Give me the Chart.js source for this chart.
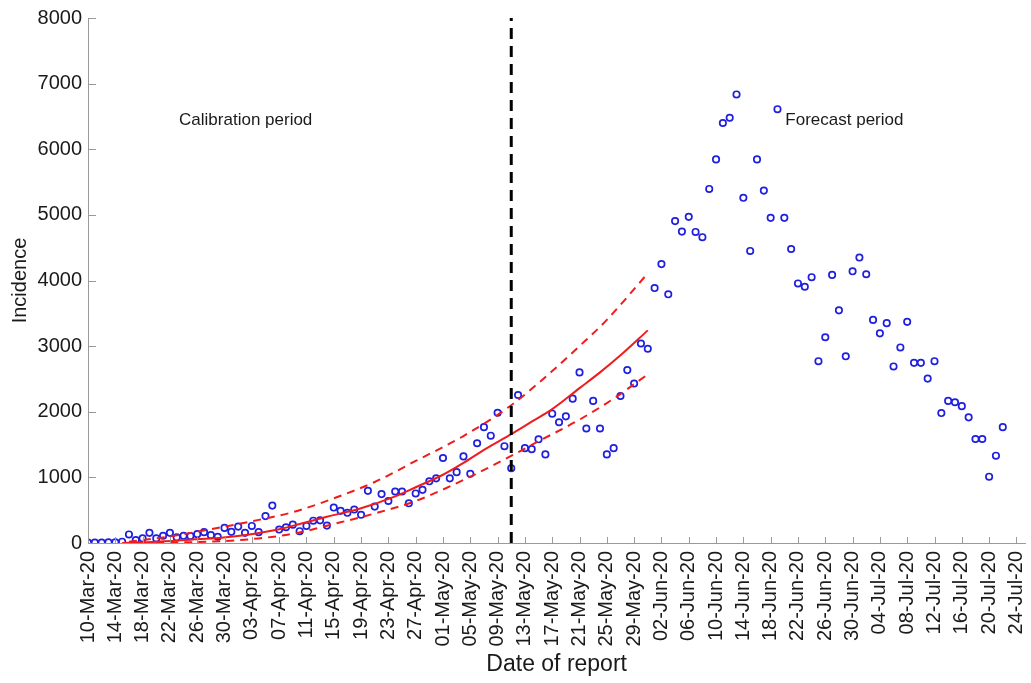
<!DOCTYPE html>
<html>
<head>
<meta charset="utf-8">
<script src="https://cdn.jsdelivr.net/npm/chart.js@4.4.1/dist/chart.umd.min.js"></script>
<style>
  html, body { margin: 0; padding: 0; background: #fff; }
  #chart { display: block; }
</style>
</head>
<body>
<canvas id="chart" width="1031" height="683"></canvas>
<script>
// Daily reported incidence, one value per day from 10-Mar-20
const incidence = [
    5, 5, 5, 10, 10, 20, 130, 45, 70, 155,
    70, 110, 155, 85, 110, 105, 135, 165, 120, 95,
    230, 170, 250, 155, 260, 165, 410, 570, 205, 240,
    280, 180, 260, 340, 345, 265, 540, 490, 460, 510,
    430, 795, 555, 745, 640, 785, 785, 605, 755, 810,
    940, 985, 1295, 985, 1080, 1320, 1055, 1520, 1765, 1635,
    1985, 1475, 1140, 2255, 1445, 1430, 1580, 1350, 1970, 1840,
    1930, 2200, 2600, 1745, 2165, 1745, 1350, 1445, 2240, 2635,
    2430, 3040, 2960, 3885, 4250, 3790, 4905, 4745, 4970, 4740,
    4660, 5395, 5845, 6400, 6480, 6835, 5260, 4450, 5845, 5370,
    4955, 6610, 4955, 4480, 3955, 3905, 4050, 2770, 3135, 4085,
    3545, 2845, 4140, 4350, 4095, 3400, 3195, 3350, 2690, 2980,
    3370, 2745, 2745, 2505, 2770, 1980, 2165, 2145, 2085, 1915,
    1585, 1585, 1010, 1330, 1765
];

// Fitted model (solid) and its bounds (dashed), read at selected days
const fitDays = [5, 10, 15, 21, 28, 31, 35, 40, 45, 48, 52, 55, 58, 62, 65, 68, 72, 75, 78, 82];
const fitMid  = [0, 20, 50, 95, 210, 290, 400, 530, 710, 850, 1040, 1220, 1420, 1660, 1850, 2040, 2360, 2600, 2860, 3240];
const upDays  = [6, 12, 18, 24, 30, 36, 42, 48, 55, 62, 68, 72, 76, 82];
const fitUp   = [20, 100, 210, 330, 470, 680, 930, 1250, 1630, 2100, 2620, 3000, 3400, 4110];
const loDays  = [10, 20, 25, 30, 36, 42, 48, 55, 60, 66, 72, 77, 82];
const fitLo   = [0, 30, 70, 140, 290, 450, 640, 960, 1220, 1550, 1880, 2200, 2570];

// End of calibration period (day index), 11-May-20
const splitDay = 62;

const tickLabels = [
    '10-Mar-20', '14-Mar-20', '18-Mar-20', '22-Mar-20', '26-Mar-20', '30-Mar-20',
    '03-Apr-20', '07-Apr-20', '11-Apr-20', '15-Apr-20', '19-Apr-20', '23-Apr-20', '27-Apr-20',
    '01-May-20', '05-May-20', '09-May-20', '13-May-20', '17-May-20', '21-May-20', '25-May-20', '29-May-20',
    '02-Jun-20', '06-Jun-20', '10-Jun-20', '14-Jun-20', '18-Jun-20', '22-Jun-20', '26-Jun-20', '30-Jun-20',
    '04-Jul-20', '08-Jul-20', '12-Jul-20', '16-Jul-20', '20-Jul-20', '24-Jul-20'
];

const FONT = "'Liberation Sans', Arial, Helvetica, sans-serif";
const AXIS_GREY = '#9a9a9a';

const toPoints = (xs, ys) => xs.map((x, i) => ({ x: x, y: ys[i] }));

// Inner tick marks (MATLAB style) + period labels
const extrasPlugin = {
    id: 'extras',
    afterDraw(chart) {
        const ctx = chart.ctx;
        const xs = chart.scales.x;
        const ys = chart.scales.y;
        const area = chart.chartArea;
        ctx.save();
        ctx.strokeStyle = AXIS_GREY;
        ctx.lineWidth = 1;
        ctx.beginPath();
        xs.ticks.forEach(t => {
            const px = Math.round(xs.getPixelForValue(t.value)) + 0.5;
            ctx.moveTo(px, area.bottom);
            ctx.lineTo(px, area.bottom - 6);
        });
        ys.ticks.forEach(t => {
            const py = Math.round(ys.getPixelForValue(t.value)) + 0.5;
            ctx.moveTo(area.left, py);
            ctx.lineTo(area.left + 8, py);
        });
        ctx.stroke();

        ctx.fillStyle = '#1a1a1a';
        ctx.font = '17px ' + FONT;
        ctx.textBaseline = 'middle';
        ctx.textAlign = 'center';
        ctx.fillText('Calibration period', xs.getPixelForValue(23.1), ys.getPixelForValue(6440));
        ctx.fillText('Forecast period', xs.getPixelForValue(110.8), ys.getPixelForValue(6440));
        ctx.restore();
    }
};

const chartConfig = {
    type: 'scatter',
    data: {
        datasets: [
            {
                label: 'Incidence',
                data: incidence.map((v, i) => ({ x: i, y: v })),
                showLine: false,
                pointStyle: 'circle',
                pointRadius: 3.2,
                pointBorderWidth: 1.7,
                borderColor: '#1f1fe0',
                backgroundColor: 'rgba(255,255,255,0)',
                order: 2
            },
            {
                label: 'Fit',
                data: toPoints(fitDays, fitMid),
                showLine: true,
                borderColor: '#f01c1c',
                borderWidth: 2,
                pointRadius: 0,
                cubicInterpolationMode: 'monotone',
                order: 1
            },
            {
                label: 'Upper',
                data: toPoints(upDays, fitUp),
                showLine: true,
                borderColor: '#f01c1c',
                borderWidth: 2,
                borderDash: [8, 6],
                pointRadius: 0,
                cubicInterpolationMode: 'monotone',
                order: 1
            },
            {
                label: 'Lower',
                data: toPoints(loDays, fitLo),
                showLine: true,
                borderColor: '#f01c1c',
                borderWidth: 2,
                borderDash: [8, 6],
                pointRadius: 0,
                cubicInterpolationMode: 'monotone',
                order: 1
            },
            {
                label: 'Split',
                data: [{ x: splitDay, y: 0 }, { x: splitDay, y: 8000 }],
                showLine: true,
                borderColor: '#000',
                borderWidth: 3,
                borderDash: [11, 7],
                pointRadius: 0,
                order: 0
            }
        ]
    },
    options: {
        responsive: false,
        animation: false,
        devicePixelRatio: 1,
        layout: {
            padding: { top: 16, right: 0, left: 0, bottom: 0 }
        },
        plugins: {
            legend: { display: false },
            tooltip: { enabled: false }
        },
        scales: {
            x: {
                type: 'linear',
                min: 0,
                max: 137.3,
                afterFit: (scale) => {
                    scale.height = 140;
                    scale.paddingLeft = 0;
                    scale.paddingRight = 0;
                },
                afterBuildTicks: (scale) => {
                    scale.ticks = tickLabels.map((_, i) => ({ value: i * 4 }));
                },
                grid: { display: false, drawTicks: false },
                border: { display: true, color: AXIS_GREY, width: 1 },
                ticks: {
                    autoSkip: false,
                    minRotation: 90,
                    maxRotation: 90,
                    padding: 8,
                    color: '#1a1a1a',
                    font: { family: FONT, size: 20 },
                    callback: (v) => tickLabels[Math.round(v / 4)]
                },
                title: {
                    display: true,
                    text: 'Date of report',
                    color: '#1a1a1a',
                    font: { family: FONT, size: 23 },
                    padding: { top: 0, bottom: 5 }
                }
            },
            y: {
                min: 0,
                max: 8000,
                afterFit: (scale) => { scale.width = 88; },
                grid: { display: false, drawTicks: false },
                border: { display: true, color: AXIS_GREY, width: 1 },
                ticks: {
                    stepSize: 1000,
                    padding: 6,
                    color: '#1a1a1a',
                    font: { family: FONT, size: 20 },
                    callback: (v) => String(v)
                },
                title: {
                    display: true,
                    text: 'Incidence',
                    color: '#1a1a1a',
                    font: { family: FONT, size: 20 },
                    padding: { top: 8, bottom: 0 }
                }
            }
        }
    },
    plugins: [extrasPlugin]
};

const incidenceChart = new Chart(document.getElementById('chart'), chartConfig);
</script>
</body>
</html>
